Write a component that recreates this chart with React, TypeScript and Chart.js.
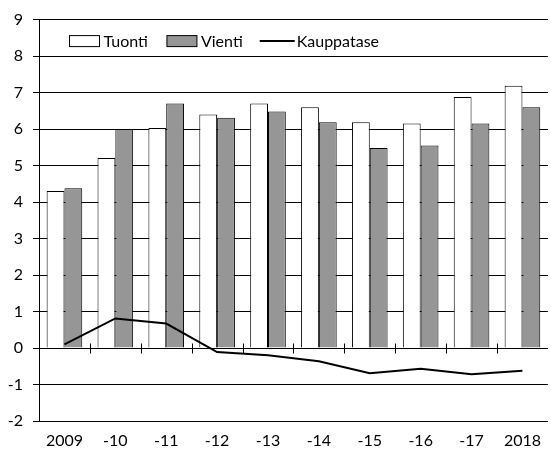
import { useEffect, useRef } from "react";
import { Chart, registerables } from "chart.js";

Chart.register(...registerables);

const categories = ["2009", "-10", "-11", "-12", "-13", "-14", "-15", "-16", "-17", "2018"];
const tuonti = [4.3, 5.21, 6.03, 6.4, 6.7, 6.6, 6.19, 6.15, 6.88, 7.19];
const vienti = [4.38, 6.0, 6.7, 6.31, 6.48, 6.19, 5.48, 5.55, 6.15, 6.6];
const kauppatase = [0.1, 0.81, 0.67, -0.11, -0.2, -0.36, -0.69, -0.57, -0.72, -0.62];
const yMin = -2;
const yMax = 9;

const FONT = "Lato, 'Open Sans', sans-serif";
const FONT_SIZE = 16;
const GRAY = "#969696";

const insideLegend = {
  id: "insideLegend",
  afterDraw(chart: any) {
    const ctx = chart.ctx as CanvasRenderingContext2D;
    const { left, top } = chart.chartArea;
    ctx.save();
    ctx.font = `${FONT_SIZE}px ${FONT}`;
    ctx.fillStyle = "#000";
    ctx.textBaseline = "middle";
    ctx.textAlign = "left";
    const cy = top + 21.5;
    let x = left + 30.5;
    chart.data.datasets.forEach((ds: any) => {
      if (ds.type === "line") {
        ctx.strokeStyle = ds.borderColor;
        ctx.lineWidth = 2;
        ctx.beginPath();
        ctx.moveTo(x - 2, cy);
        ctx.lineTo(x + 33, cy);
        ctx.stroke();
        x += 35;
      } else {
        ctx.fillStyle = ds.backgroundColor;
        ctx.fillRect(x, cy - 5.5, 30, 11);
        ctx.strokeStyle = "#000";
        ctx.lineWidth = 1;
        ctx.strokeRect(x, cy - 5.5, 30, 11);
        x += 34;
      }
      ctx.fillStyle = "#000";
      ctx.fillText(ds.label, x, cy + 1);
      x += ctx.measureText(ds.label).width + 19;
    });
    ctx.restore();
  },
};

const zeroTicks = {
  id: "zeroTicks",
  afterDatasetsDraw(chart: any) {
    const ctx = chart.ctx as CanvasRenderingContext2D;
    const xs = chart.scales.x;
    const ys = chart.scales.y;
    const y0 = Math.round(ys.getPixelForValue(0)) + 0.5;
    ctx.save();
    ctx.strokeStyle = "#000";
    ctx.lineWidth = 1;
    ctx.beginPath();
    for (let i = 0; i < categories.length - 1; i++) {
      const bx = Math.round((xs.getPixelForValue(i) + xs.getPixelForValue(i + 1)) / 2) + 0.5;
      ctx.moveTo(bx, y0 - 5);
      ctx.lineTo(bx, y0 + 5);
    }
    ctx.stroke();
    ctx.restore();
  },
};

export default function App() {
  const ref = useRef<HTMLCanvasElement | null>(null);

  useEffect(() => {
    document.body.style.margin = "0";
    if (!ref.current) return;
    const chart = new Chart(ref.current, {
      type: "bar",
      data: {
        labels: categories,
        datasets: [
          {
            type: "bar",
            label: "Tuonti",
            data: tuonti,
            backgroundColor: "#ffffff",
            borderColor: "#000",
            borderWidth: 1,
            barPercentage: 1,
            categoryPercentage: 0.7,
            order: 1,
          },
          {
            type: "bar",
            label: "Vienti",
            data: vienti,
            backgroundColor: GRAY,
            borderColor: "#000",
            borderWidth: 1,
            barPercentage: 1,
            categoryPercentage: 0.7,
            order: 1,
          },
          {
            type: "line",
            label: "Kauppatase",
            data: kauppatase,
            borderColor: "#000",
            backgroundColor: "#000",
            borderWidth: 2,
            pointRadius: 0,
            tension: 0,
            order: 0,
          } as any,
        ],
      },
      options: {
        responsive: true,
        maintainAspectRatio: false,
        animation: false,
        layout: { padding: { top: 16, right: 0, bottom: 0, left: 0 } },
        plugins: {
          legend: { display: false },
          tooltip: { enabled: false },
        },
        scales: {
          x: {
            grid: { display: false, drawTicks: false },
            border: { display: false },
            ticks: {
              color: "#000",
              font: { family: FONT, size: FONT_SIZE },
              padding: 10,
              maxRotation: 0,
            },
            afterFit(scale: any) {
              scale.height = 31;
            },
          },
          y: {
            min: yMin,
            max: yMax,
            grid: { color: "#000", lineWidth: 1, tickLength: 6 },
            border: { display: true, color: "#000", width: 1 },
            ticks: {
              stepSize: 1,
              color: "#000",
              font: { family: FONT, size: FONT_SIZE },
              padding: 10,
            },
            afterFit(scale: any) {
              scale.width = 39;
            },
          },
        },
      },
      plugins: [insideLegend, zeroTicks],
    });
    return () => chart.destroy();
  }, []);

  return (
    <div style={{ width: 551, height: 452, position: "relative" }}>
      <canvas ref={ref} />
    </div>
  );
}
